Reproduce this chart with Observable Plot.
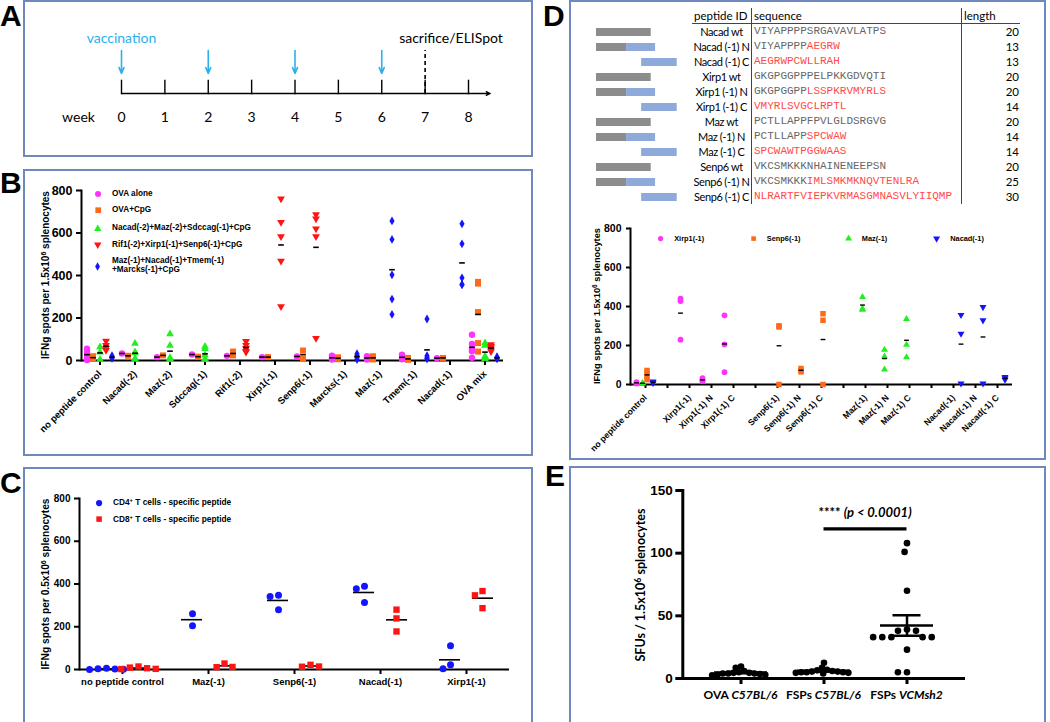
<!DOCTYPE html>
<html><head><meta charset="utf-8">
<script src="https://cdn.jsdelivr.net/npm/d3@7"></script>
<script src="https://cdn.jsdelivr.net/npm/@observablehq/plot@0.6"></script>
<style>
html,body{margin:0;padding:0;background:#fff}
body{position:relative;width:1050px;height:722px;overflow:hidden;font-family:"Liberation Sans",Arial,sans-serif;color:#000}
.frame{position:absolute;border:2px solid #6f88bd;box-sizing:border-box}
.letter{position:absolute;font:bold 30px/30px "Liberation Sans",Arial,sans-serif}
.abs{position:absolute;white-space:nowrap}
.plotwrap{position:absolute}
.plotwrap svg{overflow:visible;background:transparent}
sup{font-size:0.7em;vertical-align:0.45em;line-height:0}
</style></head><body>
<script>
// ================= DATA =================
// Panel A: timeline
const weeks = [0, 1, 2, 3, 4, 5, 6, 7, 8];
const vaccinationWeeks = [0, 2, 4, 6];
const sacrificeWeeks = [7];
const timelineEnd = [8.5];

// Panel B
const bCategories = ["no peptide control","Nacad(-2)","Maz(-2)","Sdccag(-1)","Rif1(-2)","Xirp1(-1)","Senp6(-1)","Marcks(-1)","Maz(-1)","Tmem(-1)","Nacad(-1)","OVA mix"];
const bSeries = ["OVA alone","OVA+CpG","Nacad(-2)+Maz(-2)+Sdccag(-1)+CpG","Rif1(-2)+Xirp1(-1)+Senp6(-1)+CpG","Maz(-1)+Nacad(-1)+Tmem(-1)+Marcks(-1)+CpG"];
const bLegendLines = [["OVA alone"],["OVA+CpG"],["Nacad(-2)+Maz(-2)+Sdccag(-1)+CpG"],["Rif1(-2)+Xirp1(-1)+Senp6(-1)+CpG"],["Maz(-1)+Nacad(-1)+Tmem(-1)","+Marcks(-1)+CpG"]];
const bOvaAlone = {"no peptide control":[55,40,27,13,2],"Nacad(-2)":[33],"Maz(-2)":[16],"Sdccag(-1)":[28],"Rif1(-2)":[22],"Xirp1(-1)":[16],"Senp6(-1)":[19],"Marcks(-1)":[23,10,5],"Maz(-1)":[20,10,5],"Tmem(-1)":[27,12,6],"Nacad(-1)":[11],"OVA mix":[121,78,55,44,13]};
const bOvaCpG = {"no peptide control":[20,12,8],"Nacad(-2)":[22],"Maz(-2)":[24],"Sdccag(-1)":[18],"Rif1(-2)":[42,24],"Xirp1(-1)":[16],"Senp6(-1)":[47,8],"Marcks(-1)":[15,6],"Maz(-1)":[20,5],"Tmem(-1)":[12,3],"Nacad(-1)":[12],"OVA mix":[370,362,228,82,42]};
const bGroupNMS = {"no peptide control":[63,39,5],"Nacad(-2)":[80,40,35,10,5],"Maz(-2)":[125,71,13,8,3],"Sdccag(-1)":[66,55,25,8,3],"OVA mix":[82,71,20,16,8]};
const bGroupRXS = {"no peptide control":[92,72,58,48],"Rif1(-2)":[90,72,58,45,40],"Xirp1(-1)":[761,651,584,468,254],"Senp6(-1)":[687,667,620,584,105],"OVA mix":[75,67,60,50,42]};
const bGroupMNTM = {"no peptide control":[22,15,10],"Marcks(-1)":[32,25,18,12,5],"Maz(-1)":[657,570,403,289,217],"Tmem(-1)":[195,22,15,10,8],"Nacad(-1)":[643,549,389,358,357],"OVA mix":[18,12,8]};
const bTicks = [0, 200, 400, 600, 800];

// Panel C
const cCategories = ["no peptide control","Maz(-1)","Senp6(-1)","Nacad(-1)","Xirp1(-1)"];
const cSeries = ["CD4⁺ T cells - specific peptide","CD8⁺ T cells - specific peptide"];
const cCD4 = {"no peptide control":[6,4,2,1,0],"Maz(-1)":[261,205],"Senp6(-1)":[347,342,280],"Nacad(-1)":[389,378,314],"Xirp1(-1)":[111,22,3]};
const cCD8 = {"no peptide control":[14,9,6,3,2],"Maz(-1)":[28,11,12],"Senp6(-1)":[22,13,14],"Nacad(-1)":[280,239,178],"Xirp1(-1)":[367,347,287]};
const cTicks = [0, 200, 400, 600, 800];

// Panel D: table
const dPeptideIds = ["Nacad wt","Nacad (-1) N","Nacad (-1) C","Xirp1 wt","Xirp1 (-1) N","Xirp1 (-1) C","Maz wt","Maz (-1) N","Maz (-1) C","Senp6 wt","Senp6 (-1) N","Senp6 (-1) C"];
const dSeqWildtype = ["VIYAPPPPSRGAVAVLATPS","VIYAPPPP","","GKGPGGPPPELPKKGDVQTI","GKGPGGPP","","PCTLLAPPFPVLGLDSRGVG","PCTLLAPP","","VKCSMKKKNHAINENEEPSN","VKCSMKKK",""];
const dSeqFrameshift = ["","AEGRW","AEGRWPCWLLRAH","","LSSPKRVMYRLS","VMYRLSVGCLRPTL","","SPCWAW","SPCWAWTPGGWAAS","","IMLSMKMKNQVTENLRA","NLRARTFVIEPKVRMASGMNASVLYIIQMP"];
const dLengths = [20,13,13,20,20,14,20,14,14,20,25,30];
const dSchemeKinds = ["wt","N","C"];
const dSchemeWt = [0, 20];
const dSchemeN = [[0, 11, "wt"], [11, 21.6, "fs"]];
const dSchemeC = [16.5, 29.5];

// Panel D: plot
const dCategories = ["no peptide control"," ","Xirp1(-1)","Xirp1(-1) N","Xirp1(-1) C","  ","Senp6(-1)","Senp6(-1) N","Senp6(-1) C","   ","Maz(-1)","Maz(-1) N","Maz(-1) C","    ","Nacad(-1)","Nacad(-1) N","Nacad(-1) C"];
const dSeries = ["Xirp1(-1)","Senp6(-1)","Maz(-1)","Nacad(-1)"];
const dXirp1 = {"no peptide control":[12,8,5],"Xirp1(-1)":[440,428,230],"Xirp1(-1) N":[32,22,17],"Xirp1(-1) C":[355,206,63]};
const dSenp6 = {"no peptide control":[72,58,42,25],"Senp6(-1)":[301,295,0],"Senp6(-1) N":[82,72,65],"Senp6(-1) C":[363,329,0]};
const dMaz = {"no peptide control":[8,5],"Maz(-1)":[449,389,384],"Maz(-1) N":[178,144,77],"Maz(-1) C":[336,204,140]};
const dNacad = {"no peptide control":[15,10,8],"Nacad(-1)":[356,260,5],"Nacad(-1) N":[397,329,5],"Nacad(-1) C":[38,32,24]};
const dTicks = [0, 200, 400, 600, 800];

// Panel E
const eGroups = ["OVA C57BL/6","FSPs C57BL/6","FSPs VCMsh2"];
const eOva = [9.5, 8.5, 6, 5, 4.5, 4.5, 4, 4, 4, 3.5, 3, 3, 2.5];
const eFspsB6 = [12.5, 8.5, 7, 6.5, 6, 5.5, 5.5, 5, 5, 5, 4.5, 4.5, 4];
const eFspsVcm = [108, 101, 70, 39, 38, 38, 33, 33, 33, 33, 33, 23, 5, 5];
const eTicks = [0, 50, 100, 150];
const eSignificance = {from: "FSPs C57BL/6", to: "FSPs VCMsh2", level: 119, stars: "****", p: "(p < 0.0001)"};

// ================= HELPERS =================
const arial = '"Liberation Sans", Arial, sans-serif';
const lato = 'Lato, "Open Sans", sans-serif';
const baseStyle = {fontFamily: arial, fontWeight: "bold", fontSize: "10px", color: "#000", background: "transparent", overflow: "visible"};
const C = {magenta: "#ff33ff", orange: "#ff6a1a", green: "#22ee22", red: "#ff1414", blue: "#1414ff", vac: "#2bb0ed"};
const triDown = {draw(ctx, size) { const y = -Math.sqrt(size / (3 * Math.sqrt(3))); ctx.moveTo(0, -2 * y); ctx.lineTo(-Math.sqrt(3) * y, y); ctx.lineTo(Math.sqrt(3) * y, y); ctx.closePath(); }};
const dash = {draw(ctx, size) { const r = Math.sqrt(size / Math.PI); ctx.moveTo(-r, 0); ctx.lineTo(r, 0); }};
const rows = (obj, cats) => cats.flatMap(c => (obj[c] || []).map(v => ({cat: c, v})));
const sem = v => d3.deviation(v) / Math.sqrt(v.length);

function mount(svg, left, top) {
  const w = document.createElement("div");
  w.className = "plotwrap"; w.style.left = left + "px"; w.style.top = top + "px";
  w.appendChild(svg); document.body.appendChild(w); return svg;
}
function el(html, css) {
  const d = document.createElement("div"); d.className = "abs"; d.innerHTML = html; d.style.cssText += css; document.body.appendChild(d); return d;
}
function frame(l, t, w, h) { el("", `left:${l}px;top:${t}px;width:${w}px;height:${h}px;`).className = "frame"; }
function letter(txt, l, t) { const d = el(txt, `left:${l}px;top:${t}px;`); d.className = "letter"; }
function vlabel(html, cx, cy, css) {
  el(html, `left:${cx - 150}px;top:${cy - 10}px;width:300px;height:20px;line-height:20px;text-align:center;transform:rotate(-90deg);${css}`);
}
function symbolSvg(type, color, r) {
  const path = d3.symbol(type, Math.PI * r * r)();
  const s = 2 * r + 8;
  return `<svg width="${s}" height="${s}" viewBox="${-s/2} ${-s/2} ${s} ${s}" style="position:absolute;left:${-s/2}px;top:${-s/2}px;overflow:visible"><path d="${path}" fill="${color}"/></svg>`;
}
function legendItem(type, color, r, sx, sy, lines, tx, ty, font, lh) {
  el(symbolSvg(type, color, r), `left:${sx}px;top:${sy}px;width:0;height:0;`);
  el(lines.join("<br>"), `left:${tx}px;top:${ty - lh * lines.length / 2}px;line-height:${lh}px;font:${font};`);
}

// ================= FRAMES & LETTERS =================
frame(23, 0, 510, 157);
frame(23, 169, 510, 287);
frame(23, 467, 510, 265);
frame(569, 0, 477, 460);
frame(569, 466, 477, 265);
letter("A", 0, 1); letter("B", 0, 168); letter("C", 0, 468); letter("D", 543, 1); letter("E", 545, 461);

// ================= PANEL A =================
mount(Plot.plot({
  width: 533, height: 157, marginLeft: 121, marginRight: 65, marginTop: 50, marginBottom: 64,
  x: {domain: [0, 8], axis: null}, y: {domain: [0, 10], axis: null},
  style: {...baseStyle, fontFamily: lato, fontWeight: "normal", fontSize: "14px"},
  marks: [
    Plot.ruleX(weeks, {x: d => d, y1: -0.3, y2: 3.1, strokeWidth: 1.4}),
    Plot.arrow(timelineEnd, {x1: 0, x2: d => d, y1: 0, y2: 0, strokeWidth: 1.3, headLength: 5, headAngle: 50}),
    Plot.ruleX(sacrificeWeeks, {x: d => d, y1: 0, y2: 10, strokeWidth: 1.6, strokeDasharray: "4,3"}),
    Plot.arrow(vaccinationWeeks, {x1: d => d, x2: d => d, y1: 10, y2: 4.65, stroke: C.vac, strokeWidth: 1.6, headLength: 6, headAngle: 45}),
    Plot.text(weeks, {x: d => d, y: 0, dy: 24, text: d => String(d)}),
    Plot.text(["week"], {x: 0, y: 0, dy: 24, dx: -43, text: d => d}),
    Plot.text(["vaccination"], {x: vaccinationWeeks[0], y: 10, dy: -12, text: d => d, fill: C.vac}),
    Plot.text(["sacrifice/ELISpot"], {x: sacrificeWeeks[0], y: 10, dy: -12, dx: -26, textAnchor: "start", text: d => d})
  ]
}), 0, 0);

// ================= PANEL B =================
const bData = [bOvaAlone, bOvaCpG, bGroupNMS, bGroupRXS, bGroupMNTM].map(o => rows(o, bCategories));
const bStyle = [
  {symbol: d3.symbolCircle, color: C.magenta, dx: -13, r: 3.2},
  {symbol: d3.symbolSquare, color: C.orange, dx: -7, r: 3.4},
  {symbol: d3.symbolTriangle, color: C.green, dx: 0, r: 2.9},
  {symbol: triDown, color: C.red, dx: 6, r: 2.9},
  {symbol: d3.symbolDiamond, color: C.blue, dx: 12, r: 2.7}
];
mount(Plot.plot({
  width: 533, height: 295, marginLeft: 81, marginRight: 30, marginTop: 30, marginBottom: 95,
  x: {type: "band", domain: bCategories, padding: 0},
  y: {domain: [0, 800]},
  style: baseStyle,
  marks: [
    Plot.ruleY([0], {strokeWidth: 2}),
    Plot.frame({anchor: "left", strokeWidth: 2}),
    Plot.axisY({ticks: bTicks, tickSize: 5, strokeWidth: 2, fontSize: 12.5, label: null}),
    Plot.axisX({tickSize: 5, strokeWidth: 2, tickRotate: -45, fontSize: 9.5, label: null}),
    ...bData.flatMap((data, i) => [
      Plot.dot(data, {x: "cat", y: "v", symbol: bStyle[i].symbol, fill: bStyle[i].color, stroke: "none", r: bStyle[i].r, dx: bStyle[i].dx}),
      Plot.dot(data, Plot.groupX({y: "mean"}, {x: "cat", y: "v", symbol: dash, r: 2.8, fill: "none", stroke: "#000", strokeWidth: 1.6, dx: bStyle[i].dx}))
    ])
  ]
}), 0, 160);
vlabel("IFNg spots per 1.5x10<sup>6</sup> splenocytes", 50, 275, `font:bold 10px ${arial};`);
const bLegendY = [194, 210.7, 228.3, 245, 266.5];
bSeries.forEach((s, i) => legendItem(bStyle[i].symbol, bStyle[i].color, bStyle[i].r * 0.95, 98, bLegendY[i], bLegendLines[i], 112, bLegendY[i], `bold 8.2px ${arial}`, 10.5));

// ================= PANEL C =================
const cData = [rows(cCD4, cCategories), rows(cCD8, cCategories)];
const cStyle = [{symbol: d3.symbolCircle, color: C.blue, dx: -16, r: 3.5}, {symbol: d3.symbolSquare, color: C.red, dx: 16, r: 3.6}];
mount(Plot.plot({
  width: 533, height: 254, marginLeft: 77, marginRight: 23, marginTop: 30, marginBottom: 53,
  fx: {domain: cCategories, padding: 0},
  y: {domain: [0, 800]},
  style: baseStyle,
  marks: [
    Plot.ruleY([0], {strokeWidth: 2}),
    Plot.frame({anchor: "left", facetAnchor: "left", strokeWidth: 2}),
    Plot.axisY({ticks: cTicks, tickSize: 5, strokeWidth: 2, fontSize: 10, label: null}),
    Plot.axisFx({anchor: "bottom", tickSize: 5, strokeWidth: 2, fontSize: 9.5, label: null}),
    Plot.ruleY(cData[0], Plot.groupZ({y: "mean"}, {fx: "cat", y: "v", strokeWidth: 1.6, insetLeft: 16, insetRight: 49})),
    Plot.ruleY(cData[1], Plot.groupZ({y: "mean"}, {fx: "cat", y: "v", strokeWidth: 1.6, insetLeft: 49, insetRight: 16})),
    ...cData.map((data, i) => Plot.dot(data, Plot.dodgeX({anchor: "middle", padding: 1.5}, {fx: "cat", y: "v", r: cStyle[i].r, symbol: cStyle[i].symbol, fill: cStyle[i].color, stroke: "none", dx: cStyle[i].dx})))
  ]
}), 0, 468);
vlabel("IFNg spots per 0.5x10<sup>6</sup> splenocytes", 50, 584, `font:bold 10.2px ${arial};`);
[502.7, 519].forEach((y, i) => legendItem(cStyle[i].symbol, cStyle[i].color, 3.1, 99.3, y, [cSeries[i].replace("⁺", "<sup>+</sup>")], 113, y, `bold 8.3px ${arial}`, 11));

// ================= PANEL D: table =================
(function () {
  const t = document.createElement("div");
  t.style.cssText = `position:absolute;left:692px;top:8px;width:328px;font-family:${lato};font-size:11.5px;`;
  const line = "1.3px solid #444";
  let html = `<div style="display:flex;height:15px;line-height:15px;border-bottom:${line}">
    <div style="width:59px;padding-left:2px;box-sizing:border-box">peptide ID</div>
    <div style="width:210px;padding-left:2px;box-sizing:border-box;border-left:${line}">sequence</div>
    <div style="width:59px;padding-left:2px;box-sizing:border-box;border-left:${line}">length</div></div>`;
  dPeptideIds.forEach((id, i) => {
    html += `<div style="display:flex;height:15px;line-height:15px">
      <div style="width:59px;text-align:center;white-space:nowrap;letter-spacing:-0.4px;font-size:11px">${id}</div>
      <div style="width:210px;padding-left:2px;box-sizing:border-box;border-left:${line};font-family:'Liberation Mono',monospace;font-size:11px;white-space:nowrap"><span style="color:#666">${dSeqWildtype[i]}</span><span style="color:#ff4a4a">${dSeqFrameshift[i]}</span></div>
      <div style="width:59px;text-align:right;padding-right:1px;box-sizing:border-box;border-left:${line}">${dLengths[i]}</div></div>`;
  });
  t.innerHTML = html;
  document.body.appendChild(t);
})();
const dBars = dPeptideIds.flatMap((id, i) => {
  const kind = dSchemeKinds[i % 3];
  if (kind === "wt") return [{id, x1: dSchemeWt[0], x2: dSchemeWt[1], part: "wt"}];
  if (kind === "N") return dSchemeN.map(([x1, x2, part]) => ({id, x1, x2, part}));
  return [{id, x1: dSchemeC[0], x2: dSchemeC[1], part: "fs"}];
});
mount(Plot.plot({
  width: 90, height: 190, marginLeft: 6, marginRight: 3.3, marginTop: 4.5, marginBottom: 5.5,
  x: {domain: [0, 29.5], axis: null},
  y: {type: "band", domain: dPeptideIds, paddingInner: 0.45, paddingOuter: 0.225, axis: null},
  color: {domain: ["wt", "fs"], range: ["#8c8c8c", "#8eaadb"]},
  style: baseStyle,
  marks: [Plot.barX(dBars, {y: "id", x1: "x1", x2: "x2", fill: "part"})]
}), 590, 20);

// ================= PANEL D: plot =================
const dData = [dXirp1, dSenp6, dMaz, dNacad].map(o => rows(o, dCategories));
const dStyle = [
  {symbol: d3.symbolCircle, color: C.magenta, dx: -9, r: 2.9},
  {symbol: d3.symbolSquare, color: C.orange, dx: 1.5, r: 3.1},
  {symbol: d3.symbolTriangle, color: C.green, dx: -3, r: 2.6},
  {symbol: triDown, color: C.blue, dx: 7.5, r: 2.6}
];
mount(Plot.plot({
  width: 470, height: 255, marginLeft: 60, marginRight: 28, marginTop: 28, marginBottom: 71,
  x: {type: "band", domain: dCategories, padding: 0},
  y: {domain: [0, 800]},
  style: baseStyle,
  marks: [
    Plot.ruleY([0], {strokeWidth: 2}),
    Plot.frame({anchor: "left", strokeWidth: 2}),
    Plot.axisY({ticks: dTicks, tickSize: 4, strokeWidth: 2, fontSize: 10.5, label: null}),
    Plot.axisX({tickSize: 4, strokeWidth: 2, tickRotate: -45, fontSize: 8.7, label: null, tickFormat: d => d.trim()}),
    ...dData.flatMap((data, i) => [
      Plot.dot(data, {x: "cat", y: "v", symbol: dStyle[i].symbol, fill: dStyle[i].color, stroke: "none", r: dStyle[i].r, dx: dStyle[i].dx}),
      Plot.dot(data, Plot.groupX({y: "mean"}, {x: "cat", y: "v", symbol: dash, r: 2.4, fill: "none", stroke: "#000", strokeWidth: 1.4, dx: dStyle[i].dx}))
    ])
  ]
}), 570, 200);
vlabel("IFNg spots per 1.5x10<sup>6</sup> splenocytes", 601.5, 306, `font:bold 9.3px ${arial};`);
const dLegendX = [660.7, 753.3, 848.3, 936.7];
dSeries.forEach((s, i) => legendItem(dStyle[i].symbol, dStyle[i].color, 2.6, dLegendX[i], 239, [s], dLegendX[i] + 13.5, 239, `bold 7.4px ${arial}`, 10));

// ================= PANEL E =================
const eRows = [eOva, eFspsB6, eFspsVcm].flatMap((vals, i) => vals.map(v => ({g: eGroups[i], v})));
const eSpread = [-1.2, -1.2, 2.5]; // dodge padding per group (GraphPad-like overlap for dense groups)
const ePlot = mount(Plot.plot({
  width: 470, height: 256, marginLeft: 112, marginRight: 75, marginTop: 24, marginBottom: 44,
  fx: {domain: eGroups, paddingInner: 0, paddingOuter: 0.2},
  y: {domain: [0, 150]},
  style: {...baseStyle, fontSize: "13px"},
  marks: [
    Plot.ruleY([0], {strokeWidth: 3, insetLeft: -17, insetRight: -17}),
    Plot.frame({anchor: "left", facetAnchor: "left", strokeWidth: 3, insetLeft: -16.7}),
    Plot.axisY({ticks: eTicks, tickSize: 7, strokeWidth: 3, fontSize: 13.5, label: null, insetLeft: -16.7}),
    Plot.axisFx({anchor: "bottom", tickSize: 6, strokeWidth: 3, tickFormat: () => "", label: null}),
    ...eGroups.map((g, i) => Plot.dot(eRows.filter(d => d.g === g), Plot.dodgeX({anchor: "middle", padding: eSpread[i]}, {fx: "g", y: "v", r: 3.3, fill: "#000"}))),
    Plot.ruleY(eRows, Plot.groupZ({y: "mean"}, {fx: "g", y: "v", strokeWidth: 2.5, insetLeft: 15, insetRight: 15})),
    Plot.ruleX(eRows, Plot.groupZ({y1: v => d3.mean(v) - sem(v), y2: v => d3.mean(v) + sem(v)}, {fx: "g", y1: "v", y2: "v", x: null, strokeWidth: 2.5})),
    Plot.ruleY(eRows, Plot.groupZ({y: v => d3.mean(v) + sem(v)}, {fx: "g", y: "v", strokeWidth: 2.5, insetLeft: 27.5, insetRight: 27.5})),
    Plot.ruleY(eRows, Plot.groupZ({y: v => d3.mean(v) - sem(v)}, {fx: "g", y: "v", strokeWidth: 2.5, insetLeft: 27.5, insetRight: 27.5}))
  ]
}), 570, 466);
(function () {
  const fx = ePlot.scale("fx"), y = ePlot.scale("y");
  const cx = g => fx.apply(g) + fx.bandwidth / 2;
  eGroups.forEach(g => {
    const [a, b] = g.split(" ");
    el(`${a} <i>${b}</i>`, `left:${570 + cx(g) - 60}px;top:${686}px;width:120px;text-align:center;font:bold 12px ${lato};line-height:18px;`);
  });
  const svg = d3.select(ePlot);
  const x1 = cx(eSignificance.from), x2 = cx(eSignificance.to);
  svg.append("line").attr("x1", x1).attr("x2", x2).attr("y1", y.apply(eSignificance.level)).attr("y2", y.apply(eSignificance.level)).attr("stroke", "#000").attr("stroke-width", 3.2);
  const t = svg.append("text").attr("x", (x1 + x2) / 2).attr("y", y.apply(eSignificance.level) - 12).attr("text-anchor", "middle").style("font", `bold 13px ${lato}`);
  t.append("tspan").text(eSignificance.stars + " ");
  t.append("tspan").attr("font-style", "italic").text(eSignificance.p);
})();
vlabel("SFUs / 1.5x10<sup>6</sup> splenocytes", 643, 585, `font:bold 12.5px ${lato};`);
</script></body></html>
